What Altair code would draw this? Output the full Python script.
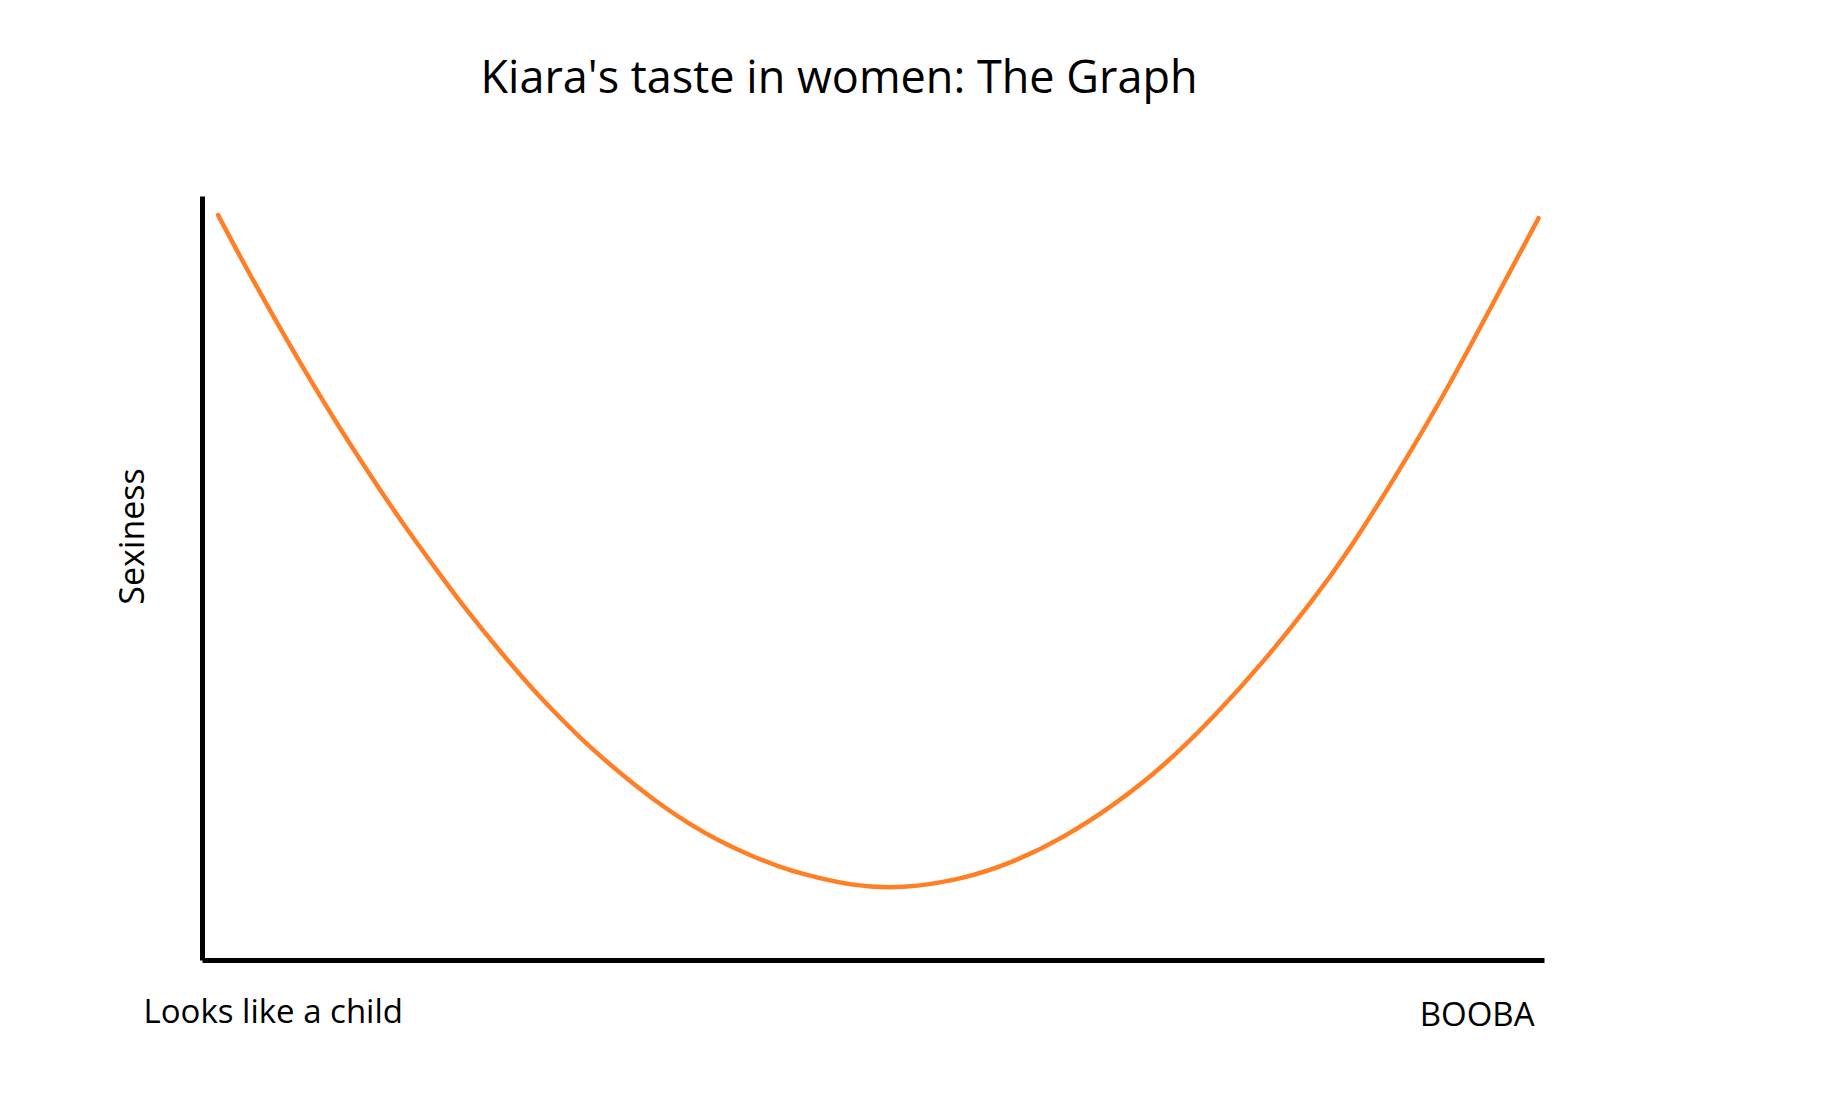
import altair as alt
import pandas as pd

TITLE = "Kiara's taste in women: The Graph"
X_TITLE_LEFT = "Looks like a child"
X_TITLE_RIGHT = "BOOBA"
Y_TITLE = "Sexiness"

# curve (x: 0..100 across the axis, y: 0..100 up the axis)
curve_x = [1.2, 3.1, 5.3, 7.4, 9.8, 12.4, 14.8, 18.0, 19.8, 22.3, 24.7, 26.8,
           28.8, 31.2, 33.7, 36.2, 38.7, 41.1, 42.9, 44.6, 48.4, 52.1, 56.8,
           60.5, 64.2, 68.0, 71.7, 75.4, 79.1, 82.8, 85.4, 89.1, 92.9, 96.6, 99.6]
curve_y = [97.5, 91.2, 84.3, 77.9, 70.9, 63.8, 57.5, 49.8, 45.6, 40.2, 35.3, 31.5,
           28.0, 24.4, 20.9, 17.9, 15.4, 13.5, 12.3, 11.3, 9.7, 9.3, 10.6,
           12.8, 16.0, 20.3, 25.4, 31.8, 39.0, 47.1, 53.4, 63.7, 75.0, 87.3, 97.1]

df = pd.DataFrame({"x": curve_x, "y": curve_y})

FONT = "Open Sans"

x_axis = alt.Axis(
    values=[0, 100],
    labelExpr=f"datum.value == 0 ? '{X_TITLE_LEFT}' : '{X_TITLE_RIGHT}'",
    labelAlign={"expr": "datum.value == 0 ? 'left' : 'right'"},
    labelOffset={"expr": "datum.value == 0 ? -59 : -10"},
    labelPadding={"expr": "datum.value == 0 ? 62 : 65"},
    labelBaseline="alphabetic",
    labelFont=FONT,
    labelFontSize=33,
    labelColor="black",
    labelLimit=2000,
    labelFlush=False,
    labelOverlap=False,
    ticks=False,
    tickSize=0,
    grid=False,
    domainColor="black",
    domainWidth=5,
    title=None,
)

y_axis = alt.Axis(
    labels=False,
    ticks=False,
    tickSize=0,
    grid=False,
    domainColor="black",
    domainWidth=5,
    title=Y_TITLE,
    titleFont=FONT,
    titleFontSize=34,
    titleFontWeight="normal",
    titleColor="black",
    titleX=-59,
    titleY=340,
    titleAlign="center",
    titleBaseline="alphabetic",
    titleAngle=270,
    titleLimit=2000,
)

chart = (
    alt.Chart(df)
    .mark_line(color="#FF7F27", strokeWidth=4.5, strokeCap="round", interpolate="basis")
    .encode(
        x=alt.X("x:Q", scale=alt.Scale(domain=[0, 100], nice=False, zero=False), axis=x_axis),
        y=alt.Y("y:Q", scale=alt.Scale(domain=[0, 100], nice=False, zero=False), axis=y_axis),
    )
    .properties(
        width=1342,
        height=764,
        title=alt.TitleParams(
            TITLE,
            font=FONT,
            fontSize=45,
            fontWeight="normal",
            color="black",
            anchor="middle",
            dx=-34,
            baseline="alphabetic",
            offset=58,
            limit=2000,
        ),
        autosize=alt.AutoSizeParams(type="none"),
        padding={"left": 194, "top": 188, "right": 100, "bottom": 120},
        background="white",
    )
    .configure_view(stroke=None)
)

chart.save("out.html", embed_options={"renderer": "svg", "actions": False})
